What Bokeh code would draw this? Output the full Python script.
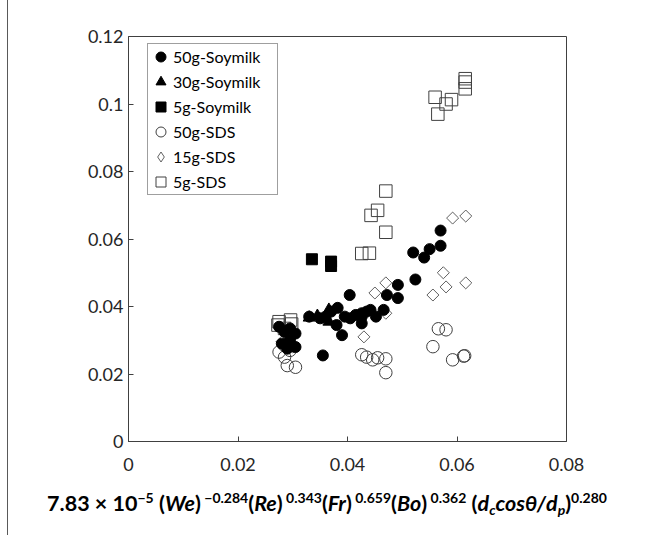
import math
from bokeh.plotting import figure
from bokeh.models import Legend, LegendItem, FixedTicker, Label, Div, Spacer
from bokeh.layouts import row, column
from bokeh.embed import file_html
from bokeh.resources import INLINE

# ---------------- data ----------------
soy50_x = [0.0275, 0.0285, 0.0295, 0.0305, 0.028, 0.029, 0.0305, 0.0295,
           0.033, 0.0355, 0.035, 0.036, 0.037, 0.038, 0.0382, 0.039, 0.0395, 0.0404,
           0.0405, 0.0415, 0.0426, 0.0426, 0.0426, 0.0435, 0.0442, 0.0452, 0.0466,
           0.0472, 0.0492, 0.0492, 0.0524, 0.052, 0.054, 0.055, 0.057, 0.057]
soy50_y = [0.034, 0.0325, 0.0335, 0.032, 0.029, 0.0275, 0.028, 0.030,
           0.037, 0.0255, 0.0365, 0.037, 0.0385, 0.0345, 0.0396, 0.0315, 0.037, 0.0434,
           0.0365, 0.0375, 0.037, 0.035, 0.038, 0.0385, 0.039, 0.037, 0.039,
           0.0434, 0.0425, 0.0464, 0.048, 0.056, 0.0545, 0.057, 0.058, 0.0625]

soy30_x = [0.033, 0.0345, 0.0366, 0.0366]
soy30_y = [0.0367, 0.0372, 0.039, 0.0355]

soy5_x = [0.0335, 0.037, 0.037]
soy5_y = [0.054, 0.0533, 0.052]

sds50_x = [0.0275, 0.0285, 0.029, 0.0305, 0.0295, 0.0285, 0.0426, 0.0435, 0.0446,
           0.0455, 0.047, 0.047, 0.0556, 0.0566, 0.058, 0.0592, 0.0614, 0.0612]
sds50_y = [0.0265, 0.025, 0.0225, 0.022, 0.027, 0.0285, 0.0257, 0.025, 0.0242,
           0.0248, 0.0245, 0.0204, 0.0281, 0.0334, 0.0331, 0.0242, 0.0254, 0.0253]

sds15_x = [0.028, 0.0295, 0.030, 0.043, 0.045, 0.047, 0.047, 0.0556, 0.0575,
           0.058, 0.0616, 0.0592, 0.0616]
sds15_y = [0.0295, 0.031, 0.028, 0.031, 0.044, 0.047, 0.038, 0.0434, 0.050,
           0.0458, 0.047, 0.0662, 0.0668]

sds5_x = [0.0273, 0.0275, 0.0285, 0.0296, 0.0298, 0.0426, 0.044, 0.0443, 0.0455,
          0.047, 0.047, 0.056, 0.0565, 0.058, 0.059, 0.0615, 0.0615, 0.0615]
sds5_y = [0.0345, 0.0355, 0.0335, 0.036, 0.0348, 0.0557, 0.0558, 0.067, 0.0685,
          0.0742, 0.062, 0.102, 0.097, 0.1, 0.1013, 0.1045, 0.1065, 0.1075]

series_labels = ["50g-Soymilk", "30g-Soymilk", "5g-Soymilk", "50g-SDS", "15g-SDS", "5g-SDS"]

x_ticks = [0, 0.02, 0.04, 0.06, 0.08]
x_tick_labels = ["0", "0.02", "0.04", "0.06", "0.08"]
y_ticks = [0, 0.02, 0.04, 0.06, 0.08, 0.1, 0.12]
y_tick_labels = ["0", "0.02", "0.04", "0.06", "0.08", "0.1", "0.12"]

# ---------------- layout ----------------
OFF = 8                      # spacer + border line to the left of the figure
FIG_W, FIG_H = 652 - OFF, 480
FRAME_L, FRAME_R, FRAME_T, FRAME_B = 128 - OFF, 566 - OFF, 36, 441
AX = "#404040"
FONT = "Lato"

p = figure(width=FIG_W, height=FIG_H, x_range=(0, 0.08), y_range=(0, 0.12),
           output_backend="svg", toolbar_location=None,
           min_border_left=FRAME_L, min_border_right=FIG_W - FRAME_R,
           min_border_top=FRAME_T, min_border_bottom=FIG_H - FRAME_B)
p.grid.visible = False
p.outline_line_color = AX
p.outline_line_width = 1
p.background_fill_color = "white"
p.border_fill_color = "white"

p.xaxis.ticker = FixedTicker(ticks=x_ticks)
p.xaxis.major_label_overrides = dict(zip(x_ticks, x_tick_labels))
p.yaxis.ticker = FixedTicker(ticks=y_ticks)
p.yaxis.major_label_overrides = dict(zip(y_ticks, y_tick_labels))
for ax in (p.xaxis, p.yaxis):
    ax.axis_line_color = AX
    ax.major_tick_line_color = AX
    ax.major_tick_in = 5
    ax.major_tick_out = 0
    ax.minor_tick_line_color = None
    ax.major_label_text_font = FONT
    ax.major_label_text_font_size = "18px"
    ax.major_label_text_color = "#262626"
p.xaxis.major_label_standoff = 16
p.yaxis.major_label_standoff = 5

r4 = p.scatter(sds50_x, sds50_y, marker="circle", size=12.5, fill_color=None,
               line_color="#404040", line_width=1)
r5 = p.scatter(sds15_x, sds15_y, marker="square", angle=math.pi / 4, size=8.5,
               fill_color=None, line_color="#606060", line_width=1)
r6 = p.scatter(sds5_x, sds5_y, marker="square", size=12.5, fill_color=None,
               line_color="#404040", line_width=1)
r1 = p.scatter(soy50_x, soy50_y, marker="circle", size=11, fill_color="black",
               line_color="black")
r2 = p.scatter(soy30_x, soy30_y, marker="triangle", size=12, fill_color="black",
               line_color="black")
r3 = p.scatter(soy5_x, soy5_y, marker="square", size=11, fill_color="black",
               line_color="black")
# legend swatch for the diamonds (same data, not drawn in the plot)
r5_key = p.scatter(sds15_x, sds15_y, marker="diamond", size=12, fill_color=None,
                   line_color="#606060", line_width=1, visible=False)

legend = Legend(items=[LegendItem(label=lab, renderers=[r])
                       for lab, r in zip(series_labels, [r1, r2, r3, r4, r5_key, r6])],
                location=(147 - 128, 441 - 195))
legend.padding = 0
legend.spacing = 0
legend.margin = 0
legend.label_height = 25
legend.glyph_height = 25
legend.glyph_width = 25
legend.label_width = 104
legend.label_standoff = 0
legend.label_text_font = FONT
legend.label_text_font_size = "16px"
legend.label_text_color = "black"
legend.border_line_color = AX
legend.border_line_width = 1
legend.background_fill_color = "white"
legend.background_fill_alpha = 1
legend.inactive_fill_alpha = 0
p.add_layout(legend)

# y-axis title: d_bm/d (rotated pieces)
def py_to_y(py):
    return (FRAME_B - py) / (FRAME_B - FRAME_T) * 0.12

YL_X = 35 - OFF - FRAME_L
for txt, py, dx, fs in [("d", 276, 0, "23px"), ("bm", 262.5, 6, "16px"), ("/d", 239.5, 0, "23px")]:
    p.add_layout(Label(x=0, y=py_to_y(py), x_offset=YL_X + dx, text=txt,
                       angle=math.pi / 2, text_font=FONT, text_font_style="bold italic",
                       text_font_size=fs, text_baseline="middle", text_align="left",
                       text_color="black"))

# x-axis title as rich text
sup = '<sup style="font-size:14px;vertical-align:0.55em;line-height:0">'
sub = '<sub style="font-size:14px;vertical-align:-0.3em;line-height:0">'
title_html = (
    '<div style="width:' + str(FIG_W) + 'px;font-family:Lato;font-weight:700;font-size:21.5px;'
    'color:#000;text-align:center;white-space:nowrap;padding-top:10px;line-height:26px;'
    'box-sizing:border-box;padding-right:6px;">'
    '7.83 × 10' + sup + '−5</sup> (<i>We</i>)' + sup + ' −0.284</sup>'
    '(<i>Re</i>)' + sup + ' 0.343</sup>(<i>Fr</i>)' + sup + ' 0.659</sup>'
    '(<i>Bo</i>)' + sup + ' 0.362</sup> (<i>d' + sub + 'c</sub>cosθ/d' + sub + 'p</sub></i>)'
    + sup + '0.280</sup></div>'
)
xtitle = Div(text=title_html, width=FIG_W, height=535 - FIG_H, margin=0)

left_line = Div(text="", width=1, height=535, margin=0,
                styles={"background-color": "#595959"})
layout = row(Spacer(width=7, height=535), left_line, column(p, xtitle))

open("out.html", "w").write(file_html(layout, INLINE))
